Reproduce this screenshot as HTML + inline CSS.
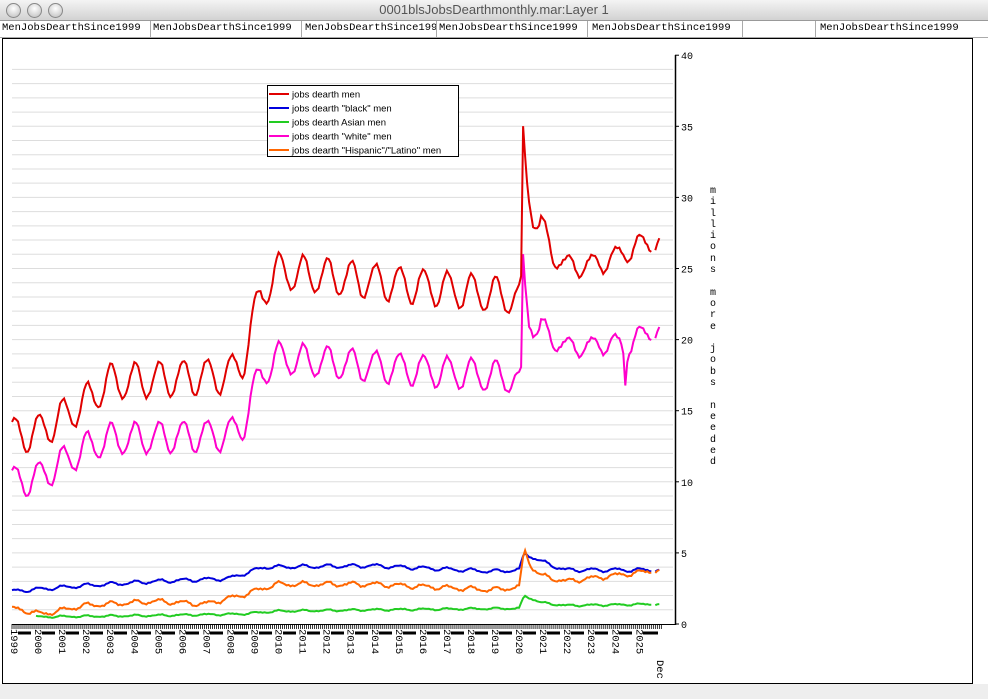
<!DOCTYPE html>
<html><head><meta charset="utf-8"><style>
body{margin:0;width:988px;height:699px;overflow:hidden;background:#fff;font-family:"Liberation Sans",sans-serif;position:relative}
#tb{position:absolute;left:0;top:0;width:988px;height:20px;background:linear-gradient(#f4f4f4,#d2d2d2);border-bottom:1px solid #999}
.c{position:absolute;top:3px;width:13px;height:13px;border-radius:50%;background:radial-gradient(circle at 50% 35%,#fff,#bbb);border:1px solid #888}
#title{position:absolute;top:2px;left:0;width:988px;text-align:center;font-size:13px;color:#555}
#hdr{position:absolute;top:21px;left:0;width:988px;height:16px;border-bottom:1px solid #aaa;font-family:"Liberation Mono",monospace;font-size:10.5px}
#hdr span{position:absolute;top:1px}
.v{position:absolute;top:21px;width:1px;height:16px;background:#aaa}
#frame{position:absolute;left:2px;top:38px;width:969px;height:644px;border:1px solid #000}
#bot{position:absolute;left:0;top:684px;width:988px;height:15px;background:#eee}
.yl{position:absolute;font-family:"Liberation Mono",monospace;font-size:10.5px;writing-mode:vertical-rl;background:#fff;line-height:11px}
</style></head><body>
<div id="tb"><div class="c" style="left:6px"></div><div class="c" style="left:27px"></div><div class="c" style="left:48px"></div><div id="title">0001blsJobsDearthmonthly.mar:Layer 1</div></div>
<div id="hdr"><span style="left:2px">MenJobsDearthSince1999</span><span style="left:153px">MenJobsDearthSince1999</span><span style="left:305px">MenJobsDearthSince199</span><span style="left:439px">MenJobsDearthSince1999</span><span style="left:592px">MenJobsDearthSince1999</span><span style="left:820px">MenJobsDearthSince1999</span></div>
<div class="v" style="left:150px"></div><div class="v" style="left:301px"></div><div class="v" style="left:436px"></div><div class="v" style="left:587px"></div><div class="v" style="left:742px"></div><div class="v" style="left:815px"></div>
<div id="frame"></div>
<div id="bot"></div>
<svg id="s" width="988" height="699" style="position:absolute;left:0;top:0"></svg>
<div id="labs"></div>
<script>
const X=t=>12+(t-1999)*24.05, Y=v=>624-v*14.22;
let g='';
for(let v=1;v<40;v++){g+=`<line x1="12" x2="673" y1="${Y(v)}" y2="${Y(v)}" stroke="#ddd" stroke-width="1"/>`;}
g+=`<line x1="675.5" x2="675.5" y1="55" y2="625" stroke="#000" stroke-width="1.5"/>`;
for(let v=0;v<=40;v+=5){g+=`<line x1="675" x2="679" y1="${Y(v)}" y2="${Y(v)}" stroke="#000"/><text x="681" y="${Y(v)+4}" font-family="Liberation Mono" font-size="10">${v}</text>`;}
g+=`<line x1="12" x2="676" y1="624.5" y2="624.5" stroke="#000"/>`;
for(let m=0;m<=324;m++){let x=X(1999+m/12);g+=`<line x1="${x}" x2="${x}" y1="624" y2="629" stroke="#000" stroke-width="0.8"/>`;}
g+=`<line x1="12" x2="658" y1="633" y2="633" stroke="#000" stroke-width="3"/>`;
g+=`<rect x="267.5" y="85.5" width="191" height="71" fill="#fff" stroke="#000"/>`;
const leg=[["#e00000",'jobs dearth men'],["#0000dd",'jobs dearth "black" men'],["#22cc22",'jobs dearth Asian men'],["#ff00cc",'jobs dearth "white" men'],["#ff6600",'jobs dearth "Hispanic"/"Latino" men']];
leg.forEach((l,i)=>{let y=94+i*14;g+=`<line x1="269" x2="289" y1="${y}" y2="${y}" stroke="${l[0]}" stroke-width="2"/><text x="292" y="${y+3.5}" font-family="Liberation Sans" font-size="9.5">${l[1].replace(/"/g,'&quot;')}</text>`;});
function interp(p,t){if(t<=p[0][0])return p[0][1];for(let i=1;i<p.length;i++){if(t<=p[i][0]){let a=p[i-1],b=p[i];return a[1]+(b[1]-a[1])*(t-a[0])/(b[0]-a[0]);}}return p[p.length-1][1];}
function series(col,start,tr,amp,nz){let pts=[],pts2=[];for(let m=0;m<324;m++){let t=1999+m/12;if(t<start)continue;let a=interp(amp,t);
let v=interp(tr,t)+a*Math.cos(2*Math.PI*(t-0.12))+nz*(Math.sin(m*2.7)+Math.sin(m*5.3))*0.5;
let p=X(t).toFixed(1)+','+Y(v).toFixed(1);if(m>=321)pts2.push(p);else if(m!=320)pts.push(p);}
return `<polyline points="${pts.join(' ')}" fill="none" stroke="${col}" stroke-width="2"/><polyline points="${pts2.join(' ')}" fill="none" stroke="${col}" stroke-width="2"/>`;}
const AMPa=[[1999,1],[2019.9,1],[2020,0],[2020.9,0],[2021,0.6],[2026,0.6]];
g+=series('#0000dd',1999,[[1999,2.3],[2002,2.7],[2005,3],[2008,3.2],[2009.5,4],[2014,4.1],[2019,3.7],[2020.1,3.8],[2020.3,5],[2021,4.4],[2022,3.8],[2026,3.8]],[[1999,0.12],[2026,0.12]],0.05);
g+=series('#ff6600',1999,[[1999,1.1],[2000.3,0.7],[2002,1.3],[2005,1.6],[2007,1.4],[2008.5,2],[2010,2.8],[2014,2.8],[2019,2.4],[2020.1,2.6],[2020.3,5.3],[2020.6,4],[2021,3.4],[2022,3],[2024,3.4],[2026,3.8]],[[1999,0.15],[2026,0.15]],0.08);
g+=series('#22cc22',2000,[[2000,0.5],[2005,0.6],[2008.5,0.7],[2010,0.9],[2014,1.0],[2020.1,1.1],[2020.3,2.0],[2021,1.5],[2022,1.3],[2026,1.4]],[[1999,0.06],[2026,0.06]],0.04);
g+=series('#ff00cc',1999,[[1999,10],[2000,10.2],[2002,12.3],[2003,13],[2008,13.3],[2008.6,14],[2009.3,17.5],[2010,18.7],[2019.9,17.3],[2020.0,17.6],[2020.2,18],[2020.25,26],[2020.33,24],[2020.5,21],[2020.7,20],[2021,21],[2021.5,20],[2022,19.5],[2023,19.5],[2024,19.8],[2024.4,19.5],[2024.5,17.2],[2024.6,19.5],[2025,20.2],[2026,20.8]],AMPa.map(p=>[p[0],p[1]*1.1]),0.15);
g+=series('#e00000',1999,[[1999,13.3],[2000,13.4],[2002,15.5],[2003,17],[2008,17.5],[2008.6,18.5],[2009.3,23],[2010,24.8],[2013,24.3],[2019.9,23],[2020.0,23.5],[2020.2,24.5],[2020.25,35],[2020.33,33],[2020.42,31],[2020.55,29],[2020.7,27.6],[2021,28.2],[2021.5,26],[2022,25.2],[2023,25.2],[2024,25.7],[2025,26.6],[2026,27]],AMPa.map(p=>[p[0],p[1]*1.25]),0.15);
document.getElementById('s').innerHTML=g;
let h='';
for(let y=1999;y<=2025;y++){h+=`<div class="yl" style="left:${X(y)-5}px;top:629px">${y}</div>`;}
h+=`<div class="yl" style="left:653px;top:660px">Dec</div>`;
h+=`<div style="position:absolute;left:707px;top:186px;width:12px;font-family:'Liberation Mono',monospace;font-size:10px;line-height:11.3px;text-align:center">m<br>i<br>l<br>l<br>i<br>o<br>n<br>s<br><br>m<br>o<br>r<br>e<br><br>j<br>o<br>b<br>s<br><br>n<br>e<br>e<br>d<br>e<br>d</div>`;
document.getElementById('labs').innerHTML=h;
</script>
</body></html>
